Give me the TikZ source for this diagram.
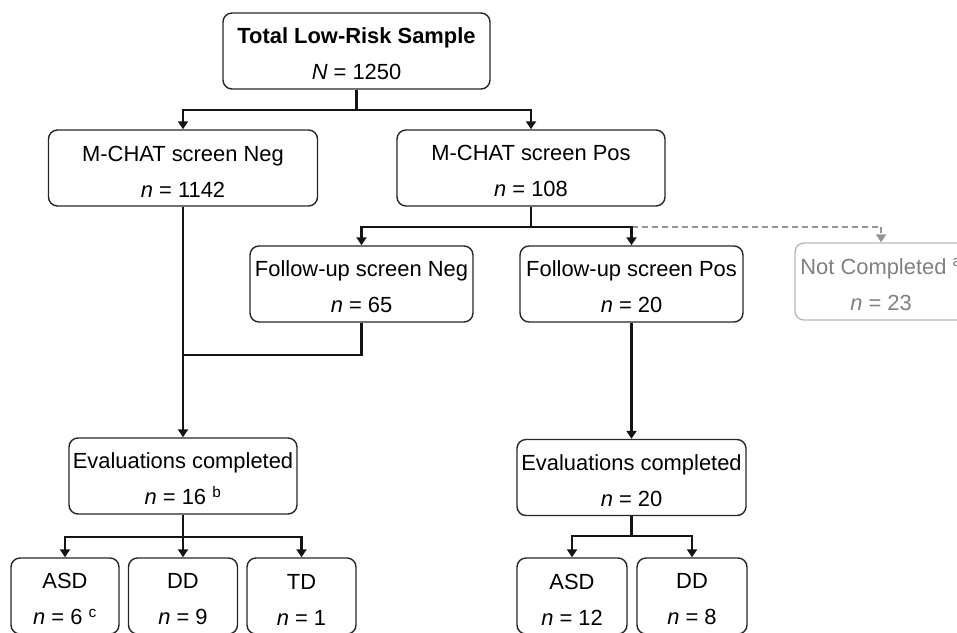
\documentclass[tikz,border=0pt]{standalone}
\usepackage{fontspec}
\setmainfont{Liberation Sans}
\usetikzlibrary{arrows.meta}
\begin{document}
\begin{tikzpicture}[x=1pt,y=-1pt,
  box/.style={draw=black!85, line width=1.4pt, rounded corners=9pt, inner sep=0pt,
    align=center, font=\fontsize{21.9}{36}\selectfont, text=black, minimum height=76},
  greybox/.style={box, draw=black!28, text=black!50},
  conn/.style={line width=2.3pt, draw=black!92},
  arr/.style={conn, -{Triangle[width=10pt,length=8pt]}},
  darr/.style={line width=2.3pt, draw=black!42, dash pattern=on 6pt off 4pt, -{Triangle[width=10pt,length=8pt]}}
]
\useasboundingbox (0,0) rectangle (957,632);
\clip (0,0) rectangle (957,632);

\node[box, minimum width=267] (top) at (356.5,51) {\rule{0pt}{22pt}\textbf{Total Low-Risk Sample}\\\textit{N} = 1250};
\node[box, minimum width=269] (neg) at (183,168) {\rule{0pt}{22pt}M-CHAT screen Neg\\\textit{n} = 1142};
\node[box, minimum width=268] (pos) at (531,168) {\rule{0pt}{22pt}M-CHAT screen Pos\\\textit{n} = 108};
\node[box, minimum width=223] (fneg) at (361.5,284) {\rule{0pt}{22pt}Follow-up screen Neg\\\textit{n} = 65};
\node[box, minimum width=223] (fpos) at (631.5,284) {\rule{0pt}{22pt}Follow-up screen Pos\\\textit{n} = 20};
\node[greybox, minimum width=172, minimum height=77] (nc) at (881,281.5) {\rule{0pt}{22pt}Not Completed \textsuperscript{a}\\\textit{n} = 23};
\node[box, minimum width=228] (e1) at (183,476) {\rule{0pt}{22pt}Evaluations completed\\\textit{n} = 16 \textsuperscript{b}};
\node[box, minimum width=229] (e2) at (631.5,477.5) {\rule{0pt}{22pt}Evaluations completed\\\textit{n} = 20};
\node[box, minimum width=108] (asd1) at (65,596) {\rule{0pt}{22pt}ASD\\\textit{n} = 6 \textsuperscript{c}};
\node[box, minimum width=109] (dd1) at (183,596) {\rule{0pt}{22pt}DD\\\textit{n} = 9};
\node[box, minimum width=109] (td1) at (301.5,596) {\rule{0pt}{22pt}TD\\\textit{n} = 1};
\node[box, minimum width=110] (asd2) at (572,596) {\rule{0pt}{22pt}ASD\\\textit{n} = 12};
\node[box, minimum width=110] (dd2) at (692,596) {\rule{0pt}{22pt}DD\\\textit{n} = 8};

% top split
\draw[conn] (top.south) -- ++(0,20) coordinate (j1);
\draw[arr] (j1) -| (neg.north);
\draw[arr] (j1) -| (pos.north);

% positive screen split
\draw[conn] (pos.south) -- ++(0,20) coordinate (j2);
\draw[darr] (fpos.north |- j2) -| (nc.north);
\draw[arr] (j2) -| (fneg.north);
\draw[arr] (j2) -| (fpos.north);

% negatives to evaluation
\draw[arr] (neg.south) -- (e1.north);
\draw[conn] (fneg.south) |- ([yshift=-148pt]neg.south);
\draw[arr] (fpos.south) -- (e2.north);

% outcomes
\draw[conn] (e1.south) -- ++(0,22) coordinate (j3);
\draw[arr] (j3) -| (asd1.north);
\draw[arr] (j3) -- (dd1.north);
\draw[arr] (j3) -| (td1.north);

\draw[conn] (e2.south) -- ++(0,20) coordinate (j4);
\draw[arr] (j4) -| (asd2.north);
\draw[arr] (j4) -| (dd2.north);
\end{tikzpicture}
\end{document}
